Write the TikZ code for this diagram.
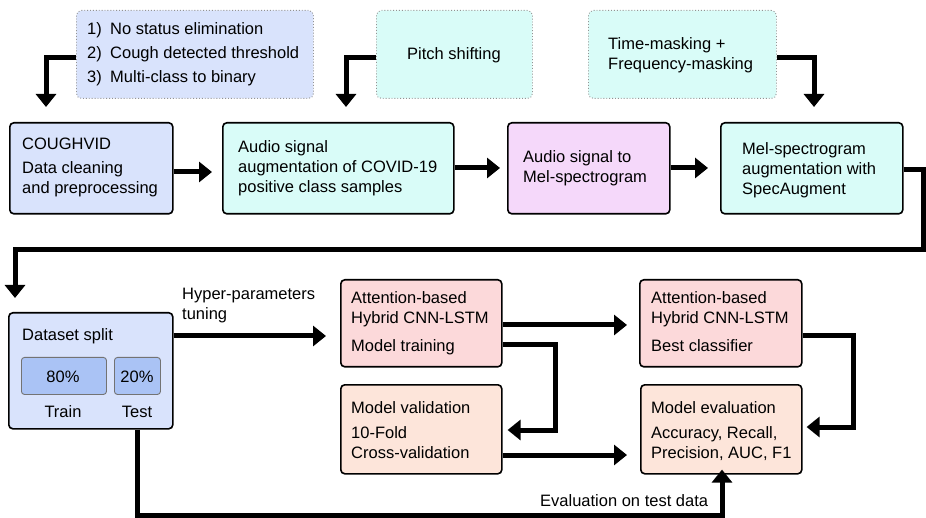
\documentclass[tikz,border=0pt]{standalone}
\usepackage{fontspec}
\setmainfont{Liberation Sans}
\usetikzlibrary{arrows.meta}
\definecolor{bluec}{RGB}{217,227,252}
\definecolor{blued}{RGB}{170,195,245}
\definecolor{cyanc}{RGB}{217,252,248}
\definecolor{purc}{RGB}{245,216,250}
\definecolor{redc}{RGB}{252,217,218}
\definecolor{peachc}{RGB}{253,229,218}
\begin{document}
\begin{tikzpicture}[x=1pt,y=-1pt,
  box/.style={draw=black, line width=1.6pt, rounded corners=4pt, anchor=north west, inner sep=0pt},
  dbox/.style={draw=gray!85, dotted, line width=0.9pt, rounded corners=5pt, anchor=north west, inner sep=0pt},
  ibox/.style={draw=black!55, line width=0.9pt, rounded corners=3pt, fill=blued, anchor=north west, inner sep=0pt},
  txt/.style={anchor=base west, inner sep=0pt, align=left, font=\fontsize{16.5}{20}\selectfont},
  ctxt/.style={anchor=base, inner sep=0pt, font=\fontsize{16.5}{20}\selectfont},
  arr/.style={line width=5pt, -{Triangle[width=20pt,length=13pt]}}]
\useasboundingbox (0,0) rectangle (926,518);
% top dotted boxes
\node[dbox, fill=bluec, minimum width=237pt, minimum height=88pt] (A) at (76,10) {};
\node[dbox, fill=cyanc, minimum width=156pt, minimum height=88pt] (B) at (376,10) {};
\node[dbox, fill=cyanc, minimum width=188pt, minimum height=88pt] (C) at (588,10) {};
\node[txt] (Atxt) at (87,83) {\makebox[23pt][l]{1)}No status elimination\\[4pt]\makebox[23pt][l]{2)}Cough detected threshold\\[4pt]\makebox[23pt][l]{3)}Multi-class to binary};
\node[ctxt] (Btxt) at (454,60) {Pitch shifting};
\node[txt] (Ctxt) at (608,70) {Time-masking +\\Frequency-masking};
% main row
\node[box, fill=bluec, minimum width=163pt, minimum height=91pt] (cough) at (9,122) {};
\node[box, fill=cyanc, minimum width=231pt, minimum height=91pt] (aug) at (222,122) {};
\node[box, fill=purc, minimum width=162pt, minimum height=91pt] (mel) at (507,122) {};
\node[box, fill=cyanc, minimum width=182pt, minimum height=91pt] (spec) at (720,122) {};
\node[txt] (coughtxt) at (22,194) {COUGHVID\\[4pt]Data cleaning\\and preprocessing};
\node[txt] (augtxt) at (238,193) {Audio signal\\augmentation of COVID-19\\positive class samples};
\node[txt] (meltxt) at (523,183) {Audio signal to\\Mel-spectrogram};
\node[txt] (spectxt) at (742,195) {Mel-spectrogram\\augmentation with\\SpecAugment};
% lower part
\node[box, fill=bluec, minimum width=164pt, minimum height=116pt] (ds) at (8,312) {};
\node[ibox, minimum width=85pt, minimum height=37pt] (p80) at (21,357) {};
\node[ibox, minimum width=46pt, minimum height=37pt] (p20) at (114,357) {};
\node[txt] (dstxt) at (22,341) {Dataset split};
\node[ctxt] (p80t) at (63,382) {80\%};
\node[ctxt] (p20t) at (137,382) {20\%};
\node[ctxt] (traint) at (63,417) {Train};
\node[ctxt] (testt) at (137,417) {Test};
\node[txt] (hyper) at (182,320) {Hyper-parameters\\tuning};
\node[box, fill=redc, minimum width=161pt, minimum height=87pt] (tr) at (340,279) {};
\node[box, fill=peachc, minimum width=161pt, minimum height=89pt] (val) at (340,384) {};
\node[box, fill=redc, minimum width=162pt, minimum height=87pt] (best) at (639,279) {};
\node[box, fill=peachc, minimum width=161pt, minimum height=89pt] (ev) at (640,384) {};
\node[txt] (trtxt) at (351,352) {Attention-based\\Hybrid CNN-LSTM\\[8pt]Model training};
\node[txt] (valtxt) at (351,458) {Model validation\\[5pt]10-Fold\\Cross-validation};
\node[txt] (besttxt) at (651,352) {Attention-based\\Hybrid CNN-LSTM\\[8pt]Best classifier};
\node[txt] (evtxt) at (651,458) {Model evaluation\\[5pt]Accuracy, Recall,\\Precision, AUC, F1};
\node[txt] (evaltest) at (540,506) {Evaluation on test data};
% connector ends
\coordinate (eA) at (46,107);
\coordinate (eB) at (346,107);
\coordinate (eC) at (814,107);
\coordinate (k1) at (923,250);
\coordinate (k2) at (15,250);
\coordinate (k3) at (555,430);
\coordinate (k4) at (853,427);
\coordinate (k5) at (137,515);
% connectors
\draw[arr] (A.west |- 0,58) -| (eA);
\draw[arr] (B.west |- 0,58) -| (eB);
\draw[arr] (C.east |- 0,58) -| (eC);
\draw[arr] (cough.east |- 0,172) -- ([xshift=-10pt]aug.west |- 0,172);
\draw[arr] (aug.east |- 0,168) -- ([xshift=-7pt]mel.west |- 0,168);
\draw[arr] (mel.east |- 0,168) -- ([xshift=-12pt]spec.west |- 0,168);
\draw[arr] (spec.east |- 0,170) -| (k1) -- (k2) -- ([yshift=14pt]ds.north -| k2);
\draw[arr] (ds.east |- 0,336) -- ([xshift=-14pt]tr.west |- 0,336);
\draw[arr] (tr.east |- 0,325) -- ([xshift=-12pt]best.west |- 0,325);
\draw[arr] (tr.east |- 0,345) -| (k3) -- ([xshift=5pt]val.east |- k3);
\draw[arr] (val.east |- 0,455) -- ([xshift=-13pt]ev.west |- 0,455);
\draw[arr] (best.east |- 0,336) -| (k4) -- ([xshift=4pt]ev.east |- k4);
\draw[arr] (ds.south -| k5) -- (k5) -| ([yshift=5pt]ev.south -| 722,0);
\end{tikzpicture}
\end{document}
